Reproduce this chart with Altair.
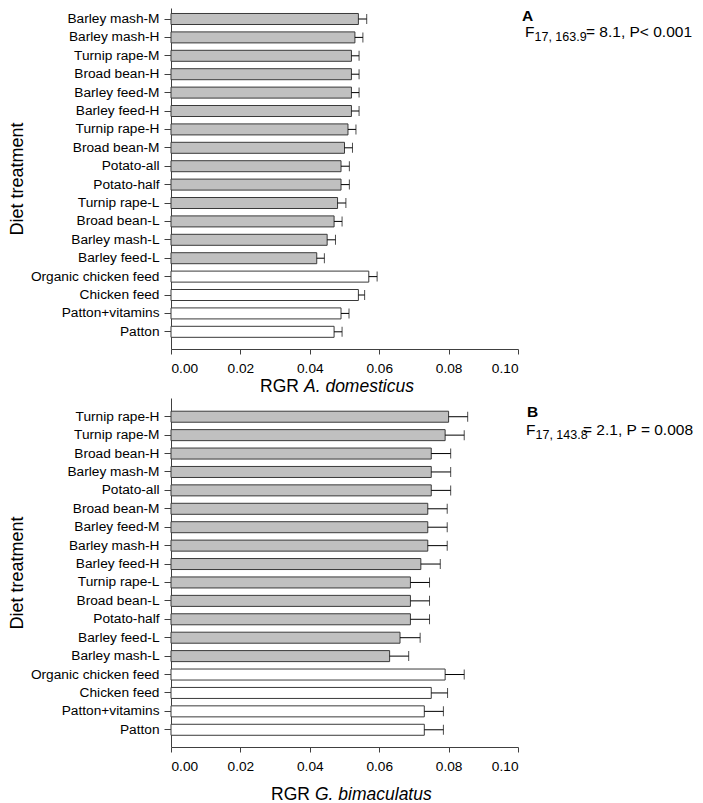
import altair as alt
import pandas as pd

# ---------------- data ----------------
names_a = ["Barley mash-M", "Barley mash-H", "Turnip rape-M", "Broad bean-H", "Barley feed-M",
           "Barley feed-H", "Turnip rape-H", "Broad bean-M", "Potato-all", "Potato-half",
           "Turnip rape-L", "Broad bean-L", "Barley mash-L", "Barley feed-L",
           "Organic chicken feed", "Chicken feed", "Patton+vitamins", "Patton"]
rgr_a = [0.054, 0.053, 0.052, 0.052, 0.052, 0.052, 0.051, 0.050, 0.049, 0.049,
         0.048, 0.047, 0.045, 0.042, 0.057, 0.054, 0.049, 0.047]
se_a = [0.0024, 0.0023, 0.0022, 0.0022, 0.0022, 0.0022, 0.0023, 0.0023, 0.0024, 0.0024,
        0.0024, 0.0023, 0.0024, 0.0022, 0.0024, 0.0018, 0.0023, 0.0023]

names_b = ["Turnip rape-H", "Turnip rape-M", "Broad bean-H", "Barley mash-M", "Potato-all",
           "Broad bean-M", "Barley feed-M", "Barley mash-H", "Barley feed-H", "Turnip rape-L",
           "Broad bean-L", "Potato-half", "Barley feed-L", "Barley mash-L",
           "Organic chicken feed", "Chicken feed", "Patton+vitamins", "Patton"]
rgr_b = [0.080, 0.079, 0.075, 0.075, 0.075, 0.074, 0.074, 0.074, 0.072, 0.069,
         0.069, 0.069, 0.066, 0.063, 0.079, 0.075, 0.073, 0.073]
se_b = [0.0055, 0.0055, 0.0056, 0.0056, 0.0056, 0.0056, 0.0056, 0.0056, 0.0056, 0.0055,
        0.0055, 0.0055, 0.0058, 0.0055, 0.0055, 0.0047, 0.0055, 0.0055]

groups = ["diet"] * 14 + ["control"] * 4
x_ticks = [0.0, 0.02, 0.04, 0.06, 0.08, 0.10]

FONT = "Liberation Sans"
AXC = "#404040"


def txt(t, x, y, size, **kw):
    return alt.Chart(pd.DataFrame({"t": [t]})).mark_text(
        align=kw.pop("align", "left"), baseline=kw.pop("baseline", "alphabetic"),
        fontSize=size, font=FONT, color="black", **kw
    ).encode(x=alt.value(x), y=alt.value(y), text="t:N")


def panel(names, vals, ses, height, p_outer, align, letter, letter_xy,
          sub, rest, f_xy, rest_x, sp_name, ttl_x, ttl_y):
    df = pd.DataFrame({"name": names, "v": vals,
                       "hi": [v + s for v, s in zip(vals, ses)], "grp": groups})
    y = alt.Y("name:N", sort=names,
              scale=alt.Scale(domain=names, paddingInner=0.402,
                              paddingOuter=p_outer, align=align),
              axis=alt.Axis(title="Diet treatment", titleFontSize=18,
                            titleFontWeight="normal", titlePadding=4,
                            labelFontSize=13.7, labelPadding=5, tickSize=7,
                            labelLimit=300))
    x = alt.X("v:Q", scale=alt.Scale(domain=[0, 0.1], nice=False),
              axis=alt.Axis(values=x_ticks, format=".2f", title=None, grid=False,
                            tickSize=5, labelPadding=7, labelFontSize=13.7))
    bars = alt.Chart(df).mark_bar(stroke="#3a3a3a", strokeWidth=1).encode(
        x=x, y=y,
        color=alt.Color("grp:N", scale=alt.Scale(domain=["diet", "control"],
                                                 range=["#c0c0c0", "#ffffff"]),
                        legend=None))
    rule = alt.Chart(df).mark_rule(color="black", strokeWidth=1).encode(
        x="v:Q", x2="hi:Q", y=alt.Y("name:N", sort=names))
    cap = alt.Chart(df).mark_tick(color="black", thickness=1, size=10).encode(
        x="hi:Q", y=alt.Y("name:N", sort=names))
    fx, fy = f_xy
    layers = [
        bars, rule, cap,
        txt(letter, letter_xy[0], letter_xy[1], 15.5, fontWeight="bold", baseline="middle"),
        txt("F", fx, fy, 15.5),
        txt(sub, fx + 9.5, fy + 4, 12.5),
        txt(rest, rest_x, fy, 15.5),
        txt("RGR", ttl_x, ttl_y, 17.5, align="right", baseline="middle"),
        txt(sp_name, ttl_x + 5, ttl_y, 17.5, fontStyle="italic", baseline="middle"),
    ]
    return alt.layer(*layers).properties(width=347, height=height)


top = panel(names_a, rgr_a, se_a, 341, 0.467, 0.32, "A", (351, 8),
            "17, 163.9", "= 8.1, P< 0.001", (354, 29), 415,
            "A. domesticus", 128, 379)
bottom = panel(names_b, rgr_b, se_b, 349, 0.677, 0.53, "B", (356, 14),
               "17, 143.8", "= 2.1, P = 0.008", (355, 37), 412,
               "G. bimaculatus", 139, 397)

chart = alt.vconcat(top, bottom, spacing=2).properties(padding=0).configure_view(
    stroke=None
).configure_axis(
    labelFont=FONT, titleFont=FONT, labelColor="black", titleColor="black",
    domainColor=AXC, tickColor=AXC
)

chart.save("out.html", embed_options={"renderer": "svg", "actions": False})
